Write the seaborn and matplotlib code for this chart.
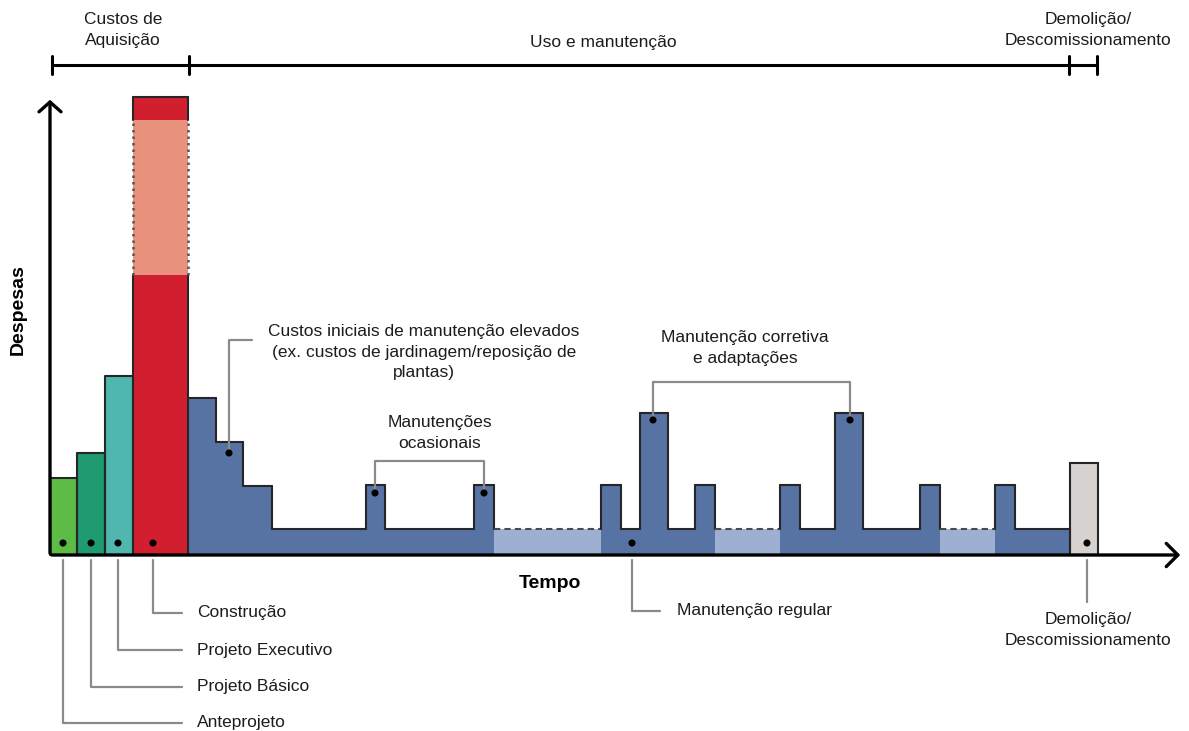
import matplotlib
matplotlib.use("Agg")
import matplotlib.pyplot as plt
import seaborn as sns
import pandas as pd

# ---------------- data ----------------
# acquisition phases (time start, duration, expense)
phase_names = ["Anteprojeto", "Projeto Básico", "Projeto Executivo", "Construção"]
phase_start = [0, 27, 55, 83]
phase_width = [27, 28, 28, 55]
phase_value = [77, 102, 179, 280]
phase_colors = ["#5cbc46", "#1e9b70", "#4fb7ae", "#d11f30"]
construction_range = 155      # uncertain extra construction cost (salmon)
construction_top = 23         # top red block

# use & maintenance profile (segment start, end, expense, light=unspecified period)
use_start = [138, 166, 193, 222, 316, 335, 424, 444, 551, 571, 590, 618, 645, 665,
             730, 750, 785, 813, 870, 890, 945, 965]
use_end = [166, 193, 222, 316, 335, 424, 444, 551, 571, 590, 618, 645, 665, 730,
           750, 785, 813, 870, 890, 945, 965, 1020]
use_value = [157, 113, 69, 26, 70, 26, 70, 26, 70, 26, 142, 26, 70, 26,
             70, 26, 142, 26, 70, 26, 70, 26]
use_light = [0, 0, 0, 0, 0, 0, 0, 1, 0, 0, 0, 0, 0, 1,
             0, 0, 0, 0, 0, 1, 0, 0]

# demolition
demo_start = 1020
demo_width = 28
demo_value = 92

# annotation points
dot_x = [13, 41, 68, 103, 179, 325, 434, 603, 800, 582, 1037]
dot_y = [12, 12, 12, 12, 102, 62, 62, 135, 135, 12, 12]

# ---------------- style ----------------
sns.set_theme(style="white")
plt.rcParams["font.family"] = ["Liberation Sans", "DejaVu Sans"]

W, H = 1189, 731
fig = plt.figure(figsize=(W / 100, H / 100), dpi=100)
ax = fig.add_axes([0, 0, 1, 1])
ax.set_xlim(-50, W - 50)
ax.set_ylim(-(H - 555), 555)
ax.axis("off")

dark = "#262626"
lead = "#8a8a8a"
blue = "#5773a3"
lblue = "#9eb0d2"
tcol = "#1c1c1c"
fs = 12.5
ls_ = 1.45

# ---- phase bars ----
for s, w, v, c in zip(phase_start, phase_width, phase_value, phase_colors):
    ax.bar(s, v, width=w, align="edge", color=c, edgecolor="none", zorder=2)
# construction: uncertain range + top
cs, cw, cv = phase_start[3], phase_width[3], phase_value[3]
ax.bar(cs, construction_range, width=cw, bottom=cv, align="edge", color="#e8917d",
       edgecolor="none", zorder=2)
ax.bar(cs, construction_top, width=cw, bottom=cv + construction_range, align="edge",
       color=phase_colors[3], edgecolor="none", zorder=2)

# outlines of phase bars
for s, w, v in zip(phase_start[:3], phase_width[:3], phase_value[:3]):
    ax.plot([s, s, s + w, s + w], [0, v, v, 0], color=dark, lw=1.5, zorder=4)
ctop = cv + construction_range + construction_top
for xx in (cs, cs + cw):
    ax.plot([xx, xx], [0, cv], color=dark, lw=1.5, zorder=4)
    ax.plot([xx, xx], [cv, cv + construction_range], color="#555555", lw=1.8,
            ls=(0, (1, 1.6)), zorder=4)
    ax.plot([xx, xx], [cv + construction_range, ctop], color=dark, lw=1.5, zorder=4)
ax.plot([cs, cs + cw], [ctop, ctop], color=dark, lw=1.5, zorder=4)

# ---- use & maintenance ----
for s, e, v, l in zip(use_start, use_end, use_value, use_light):
    ax.bar(s, v, width=e - s, align="edge", color=lblue if l else blue,
           edgecolor="none", zorder=2)
for i, (s, e, v, l) in enumerate(zip(use_start, use_end, use_value, use_light)):
    if l:
        ax.plot([s, e], [v, v], color="#4a4a4a", lw=1.5, ls=(0, (3, 2)), zorder=4)
    else:
        ax.plot([s, e], [v, v], color=dark, lw=1.5, zorder=4)
    if i + 1 < len(use_start):
        nv = use_value[i + 1]
        if nv != v:
            ax.plot([e, e], [min(v, nv), max(v, nv)], color=dark, lw=1.5, zorder=4)
ax.plot([use_end[-1], use_end[-1]], [0, use_value[-1]], color=dark, lw=1.5, zorder=4)

# ---- demolition ----
ax.bar(demo_start, demo_value, width=demo_width, align="edge", color="#d5d2cf",
       edgecolor=dark, linewidth=1.5, zorder=3)

# ---- dots ----
sns.scatterplot(x=dot_x, y=dot_y, color="black", s=26, edgecolor="none", ax=ax, zorder=6)

# ---- axes arrows ----
ax.annotate("", xy=(0, 458), xytext=(0, -1),
            arrowprops=dict(arrowstyle="->,head_length=0.32,head_width=0.36",
                            color="black", lw=2.4, mutation_scale=22), zorder=5)
ax.annotate("", xy=(1133, 0), xytext=(-1, 0),
            arrowprops=dict(arrowstyle="->,head_length=0.38,head_width=0.38",
                            color="black", lw=2.4, mutation_scale=22), zorder=5)

ax.text(-32, 245, "Despesas", rotation=90, ha="center", va="center",
        fontsize=14, fontweight="bold", color="black")
ax.text(500, -28, "Tempo", ha="center", va="center", fontsize=14,
        fontweight="bold", color="black")

# ---- top timeline ----
ty = 490
ax.plot([2, 1047], [ty, ty], color="black", lw=2.2)
for tx in (2, 139, 1019, 1047):
    ax.plot([tx, tx], [ty - 9, ty + 9], color="black", lw=2.2)
ax.text(73, 525, "Custos de\nAquisição", ha="center", va="center", fontsize=fs,
        linespacing=ls_, color=tcol)
ax.text(553, 512, "Uso e manutenção", ha="center", va="center", fontsize=fs,
        color=tcol)
ax.text(1038, 525, "Demolição/\nDescomissionamento", ha="center", va="center",
        fontsize=fs, linespacing=ls_, color=tcol)

# ---- bottom leaders for phases ----
lab_y = [-168, -132, -95, -58]
for xx, yy, name in zip(dot_x[:4], lab_y, phase_names):
    ax.plot([xx, xx, 132], [-5, yy, yy], color=lead, lw=1.6, zorder=1)
    ax.text(147, yy, name, ha="left", va="center", fontsize=fs, color=tcol)

# regular maintenance
ax.plot([582, 582, 610], [-5, -56, -56], color=lead, lw=1.6)
ax.text(627, -56, "Manutenção regular", ha="left", va="center", fontsize=fs,
        color=tcol)

# demolition
ax.plot([1037, 1037], [-5, -47], color=lead, lw=1.6)
ax.text(1038, -75, "Demolição/\nDescomissionamento", ha="center", va="center",
        fontsize=fs, linespacing=ls_, color=tcol)

# initial high maintenance
ax.plot([179, 179, 202], [102, 215, 215], color=lead, lw=1.6, zorder=5)
ax.text(374, 203, "Custos iniciais de manutenção elevados\n(ex. custos de jardinagem/reposição de\nplantas)",
        ha="center", va="center", fontsize=fs, linespacing=ls_, color=tcol)

# occasional maintenance bracket
ax.plot([325, 325, 434, 434], [62, 94, 94, 62], color=lead, lw=1.6, zorder=5)
ax.text(390, 122, "Manutenções\nocasionais", ha="center", va="center", fontsize=fs,
        linespacing=ls_, color=tcol)

# corrective maintenance bracket
ax.plot([603, 603, 800, 800], [135, 173, 173, 135], color=lead, lw=1.6, zorder=5)
ax.text(695, 207, "Manutenção corretiva\ne adaptações", ha="center", va="center",
        fontsize=fs, linespacing=ls_, color=tcol)

fig.savefig("out.png", dpi=100)
